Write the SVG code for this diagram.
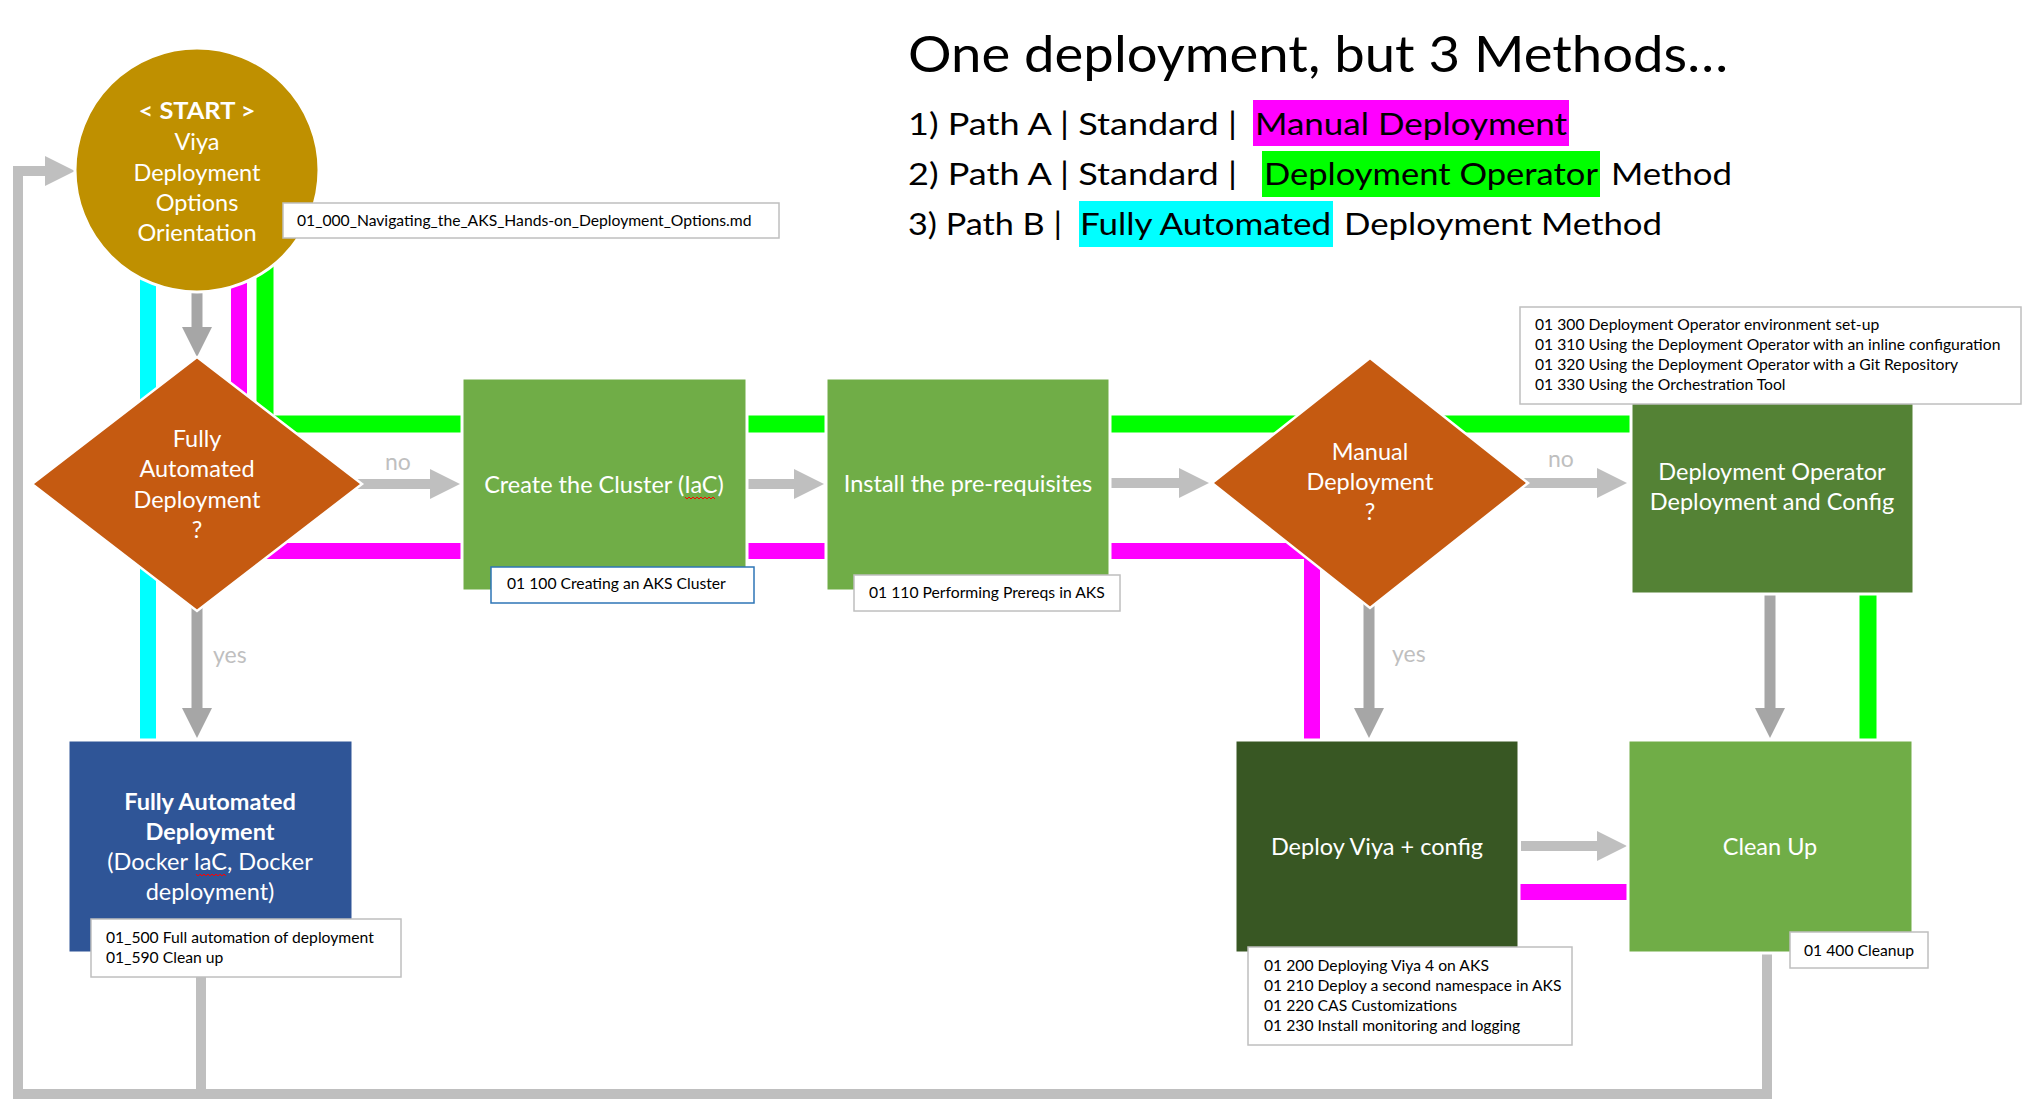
<svg xmlns="http://www.w3.org/2000/svg" width="2026" height="1114" viewBox="0 0 2026 1114">
<style>
  text { font-family: Lato, "Open Sans", "Liberation Sans", sans-serif; }
  .node { font-size: 23.5px; fill: #ffffff; text-anchor: middle; }
  .bold { font-weight: bold; }
  .lbl { font-size: 15.7px; fill: #000000; }
  .lblbox { fill: #ffffff; stroke: #bfbfbf; stroke-width: 1.5; }
  .yn { font-size: 23px; fill: #bfbfbf; }
  .leg { font-size: 31px; fill: #000000; }
  .box { stroke: #ffffff; stroke-width: 3; }
  .dia { fill: #c55a11; stroke: #ffffff; stroke-width: 2.5; }
  .lg { fill: none; stroke: #bfbfbf; stroke-width: 10; stroke-linejoin: miter; }
  .dg { fill: none; stroke: #a6a6a6; stroke-width: 11; }
  .cy { fill: none; stroke: #00ffff; stroke-width: 16; }
  .mg { fill: none; stroke: #ff00ff; stroke-width: 16; stroke-linejoin: miter; }
  .gr { fill: none; stroke: #00ff00; stroke-width: 17; stroke-linejoin: miter; }
  .sq { fill: none; stroke: #ff0000; stroke-width: 1; }
</style>
<defs>
  <marker id="ahL" markerUnits="userSpaceOnUse" viewBox="0 0 30 30" markerWidth="30" markerHeight="30" refX="18" refY="15" orient="auto">
    <path d="M0,0 L30,15 L0,30 Z" fill="#bfbfbf"/>
  </marker>
  <marker id="ahD" markerUnits="userSpaceOnUse" viewBox="0 0 30 30" markerWidth="30" markerHeight="30" refX="18" refY="15" orient="auto">
    <path d="M0,0 L30,15 L0,30 Z" fill="#a6a6a6"/>
  </marker>
</defs>

<g id="title">
  <text x="908" y="72" font-size="50" textLength="820" lengthAdjust="spacingAndGlyphs">One deployment, but 3 Methods…</text>
  <rect x="1253" y="100" width="316" height="46" fill="#ff00ff"/>
  <rect x="1262" y="151" width="338" height="46" fill="#00ff00"/>
  <rect x="1079" y="201" width="254" height="46" fill="#00ffff"/>
  <text class="leg" x="908" y="135" textLength="329" lengthAdjust="spacingAndGlyphs">1) Path A | Standard |</text>
  <text class="leg" x="1255" y="135" textLength="312" lengthAdjust="spacingAndGlyphs">Manual Deployment</text>
  <text class="leg" x="908" y="185" textLength="329" lengthAdjust="spacingAndGlyphs">2) Path A | Standard |</text>
  <text class="leg" x="1264" y="185" textLength="334" lengthAdjust="spacingAndGlyphs">Deployment Operator</text>
  <text class="leg" x="1611" y="185" textLength="121" lengthAdjust="spacingAndGlyphs">Method</text>
  <text class="leg" x="908" y="235" textLength="154" lengthAdjust="spacingAndGlyphs">3) Path B |</text>
  <text class="leg" x="1080" y="235" textLength="251" lengthAdjust="spacingAndGlyphs">Fully Automated</text>
  <text class="leg" x="1344" y="235" textLength="318" lengthAdjust="spacingAndGlyphs">Deployment Method</text>
</g>

<g id="connectors">
  <path class="cy" d="M148,250 V740"/>
  <path class="mg" d="M239,250 V551 H1312 V740"/>
  <path class="gr" d="M265,250 V424 H1631"/>
  <path class="gr" d="M1868,594 V740"/>
  <path class="mg" d="M1519,892 H1628"/>
  <path class="lg" d="M1767,950 V1094 H18 V171 H63" marker-end="url(#ahL)"/>
  <path class="lg" d="M201,950 V1094"/>
  <path class="dg" d="M197,260 V345" marker-end="url(#ahD)"/>
  <path class="dg" d="M197,560 V726" marker-end="url(#ahD)"/>
  <path class="lg" d="M300,484 H448" marker-end="url(#ahL)"/>
  <path class="lg" d="M748,484 H812" marker-end="url(#ahL)"/>
  <path class="lg" d="M1111,483 H1197" marker-end="url(#ahL)"/>
  <path class="lg" d="M1450,483 H1615" marker-end="url(#ahL)"/>
  <path class="dg" d="M1369,560 V726" marker-end="url(#ahD)"/>
  <path class="dg" d="M1770,594 V726" marker-end="url(#ahD)"/>
  <path class="lg" d="M1521,846 H1615" marker-end="url(#ahL)"/>
  <text class="yn" x="385" y="470">no</text>
  <text class="yn" x="213" y="663">yes</text>
  <text class="yn" x="1548" y="467">no</text>
  <text class="yn" x="1392" y="662">yes</text>
</g>

<g id="start">
  <circle cx="197" cy="170" r="122" fill="#bf9000" stroke="#ffffff" stroke-width="3"/>
  <text class="node bold" x="197" y="119" font-size="27" textLength="117" lengthAdjust="spacingAndGlyphs">&lt; START &gt;</text>
  <text class="node" x="197" y="150">Viya</text>
  <text class="node" x="197" y="181">Deployment</text>
  <text class="node" x="197" y="211">Options</text>
  <text class="node" x="197" y="241">Orientation</text>
  <rect class="lblbox" x="283" y="203" width="496" height="35"/>
  <text class="lbl" x="297" y="226">01_000_Navigating_the_AKS_Hands-on_Deployment_Options.md</text>
</g>

<g id="decision-fully-automated">
  <polygon class="dia" points="197,357 362,484 197,611 32,484"/>
  <text class="node" x="197" y="447">Fully</text>
  <text class="node" x="197" y="477">Automated</text>
  <text class="node" x="197" y="508">Deployment</text>
  <text class="node" x="197" y="538">?</text>
</g>

<g id="create-cluster">
  <rect class="box" x="462" y="378" width="285" height="213" fill="#70ad47"/>
  <text class="node" x="604" y="493">Create the Cluster (IaC)</text>
  <path class="sq" d="M685,497 l2,2 l2,-2 l2,2 l2,-2 l2,2 l2,-2 l2,2 l2,-2 l2,2 l2,-2 l2,2 l2,-2 l2,2 l2,-2 l2,2"/>
  <rect x="491" y="567" width="263" height="36" fill="#ffffff" stroke="#2e75b6" stroke-width="1.5"/>
  <text class="lbl" x="507" y="589">01 100 Creating an AKS Cluster</text>
</g>

<g id="install-prereqs">
  <rect class="box" x="826" y="378" width="284" height="213" fill="#70ad47"/>
  <text class="node" x="968" y="492">Install the pre-requisites</text>
  <rect class="lblbox" x="854" y="575" width="266" height="36"/>
  <text class="lbl" x="869" y="598">01 110 Performing Prereqs in AKS</text>
</g>

<g id="decision-manual">
  <polygon class="dia" points="1370,358 1528,483 1370,608 1212,483"/>
  <text class="node" x="1370" y="460">Manual</text>
  <text class="node" x="1370" y="490">Deployment</text>
  <text class="node" x="1370" y="520">?</text>
</g>

<g id="deployment-operator">
  <rect class="box" x="1631" y="381" width="283" height="213" fill="#548235"/>
  <text class="node" x="1772" y="480">Deployment Operator</text>
  <text class="node" x="1772" y="510">Deployment and Config</text>
  <rect class="lblbox" x="1520" y="307" width="501" height="97"/>
  <text class="lbl" x="1535" y="330">01 300 Deployment Operator environment set-up</text>
  <text class="lbl" x="1535" y="350">01 310 Using the Deployment Operator with an inline configuration</text>
  <text class="lbl" x="1535" y="370">01 320 Using the Deployment Operator with a Git Repository</text>
  <text class="lbl" x="1535" y="390">01 330 Using the Orchestration Tool</text>
</g>

<g id="fully-automated">
  <rect class="box" x="68" y="740" width="285" height="213" fill="#2f5597"/>
  <text class="node bold" x="210" y="810">Fully Automated</text>
  <text class="node bold" x="210" y="840">Deployment</text>
  <text class="node" x="210" y="870">(Docker IaC, Docker</text>
  <path class="sq" d="M196,874 l2,2 l2,-2 l2,2 l2,-2 l2,2 l2,-2 l2,2 l2,-2 l2,2 l2,-2 l2,2 l2,-2 l2,2 l2,-2 l2,2"/>
  <text class="node" x="210" y="900">deployment)</text>
  <rect class="lblbox" x="91" y="919" width="310" height="58"/>
  <text class="lbl" x="106" y="943">01_500 Full automation of deployment</text>
  <text class="lbl" x="106" y="963">01_590 Clean up</text>
</g>

<g id="deploy-viya">
  <rect class="box" x="1235" y="740" width="284" height="213" fill="#385723"/>
  <text class="node" x="1377" y="855">Deploy Viya + config</text>
  <rect class="lblbox" x="1248" y="947" width="324" height="98"/>
  <text class="lbl" x="1264" y="971">01 200 Deploying Viya 4 on AKS</text>
  <text class="lbl" x="1264" y="991">01 210 Deploy a second namespace in AKS</text>
  <text class="lbl" x="1264" y="1011">01 220 CAS Customizations</text>
  <text class="lbl" x="1264" y="1031">01 230 Install monitoring and logging</text>
</g>

<g id="clean-up">
  <rect class="box" x="1628" y="740" width="285" height="213" fill="#70ad47"/>
  <text class="node" x="1770" y="855">Clean Up</text>
  <rect class="lblbox" x="1790" y="932" width="138" height="36"/>
  <text class="lbl" x="1804" y="956">01 400 Cleanup</text>
</g>
</svg>
